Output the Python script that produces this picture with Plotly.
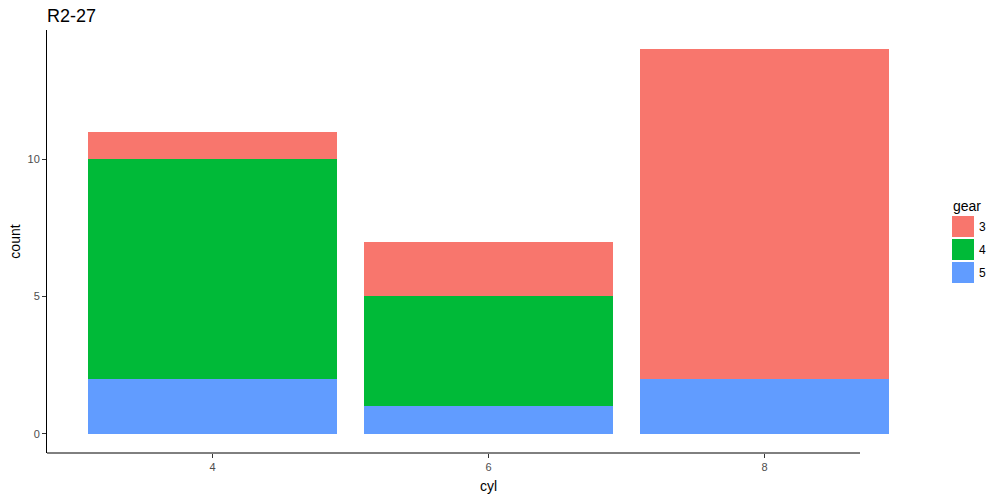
import plotly.graph_objects as go

cyl = ["4", "6", "8"]
gears = ["5", "4", "3"]
legend_order = ["3", "4", "5"]
counts = {
    "5": [2, 1, 2],
    "4": [8, 4, 0],
    "3": [1, 2, 12],
}
colors = {"3": "#F8766D", "4": "#00BA38", "5": "#619CFF"}

fig = go.Figure()
for g in gears:
    fig.add_trace(go.Bar(
        x=cyl, y=counts[g], name=g, marker_color=colors[g],
        marker_line_width=0, width=0.9, showlegend=False,
    ))

L, R, T, B = 47, 70, 30, 47
W, H = 1000, 500
plot_w = W - L - R
plot_h = H - T - B

def px_x(x):
    return (x - L) / plot_w

def px_y(y):
    return 1 - (y - T) / plot_h

fig.update_layout(
    width=W, height=H, barmode="stack",
    plot_bgcolor="white", paper_bgcolor="white",
    margin=dict(l=L, r=R, t=T, b=B, autoexpand=False),
    font=dict(family="Liberation Sans, Arial, sans-serif", color="black"),
    title=dict(text="R2-27", x=47 / W, xanchor="left", y=1 - 16 / H, yanchor="middle",
               font=dict(size=18, color="black"), automargin=False),
    showlegend=False,
    bargap=0.1,
)
fig.update_xaxes(
    type="category", range=[-0.6, 2.6], showgrid=False, zeroline=False,
    showline=False, ticks="outside", ticklen=4, tickcolor="#333333",
    tickfont=dict(size=11, color="#4D4D4D"), automargin=False,
    title=dict(text="cyl", font=dict(size=14), standoff=8),
)
fig.update_yaxes(
    range=[-0.7, 14.7], tickvals=[0, 5, 10], showgrid=False, zeroline=False,
    showline=True, linecolor="black", linewidth=1, ticks="outside", ticklen=4,
    tickcolor="#333333", tickfont=dict(size=11, color="#4D4D4D"), automargin=False,
    title=dict(text="count", font=dict(size=14), standoff=3),
)
# x axis line (shorter than panel, as in reference)
fig.add_shape(type="line", xref="paper", yref="paper", x0=0, x1=px_x(860),
              y0=0, y1=0, line=dict(color="black", width=1))

# legend (ggplot-style keys)
fig.add_annotation(text="gear", xref="paper", yref="paper", x=px_x(951), y=px_y(206),
                   xanchor="left", yanchor="middle", showarrow=False,
                   font=dict(size=14, color="black"))
for i, g in enumerate(legend_order):
    top = 216 + 23 * i
    fig.add_shape(type="rect", xref="paper", yref="paper",
                  x0=px_x(952), x1=px_x(974), y0=px_y(top), y1=px_y(top + 21),
                  fillcolor=colors[g], line=dict(width=0))
    fig.add_annotation(text=g, xref="paper", yref="paper", x=px_x(977), y=px_y(top + 10.5),
                       xanchor="left", yanchor="middle", showarrow=False,
                       font=dict(size=12, color="black"))

fig.write_html("out.html", config={"displayModeBar": False},
               post_script="document.body.style.margin='0';document.body.style.overflow='hidden';")
